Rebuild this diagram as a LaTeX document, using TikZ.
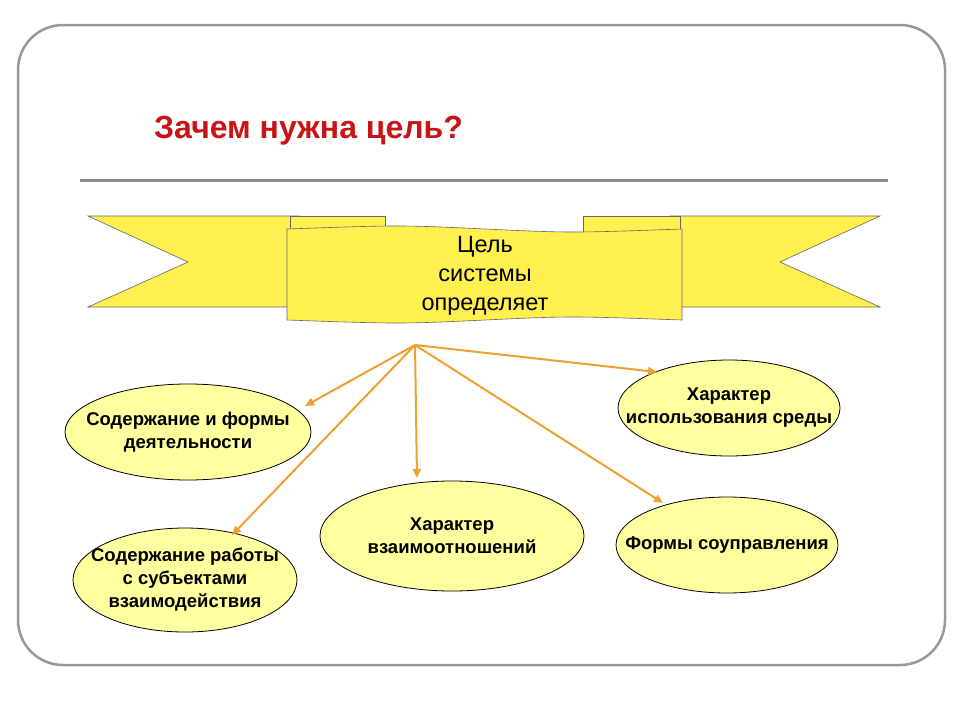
\documentclass[tikz,border=0pt]{standalone}
\usepackage{fontspec}
\setmainfont{Liberation Sans}
\usetikzlibrary{shapes.geometric,arrows.meta}
\definecolor{ban}{RGB}{255,240,80}
\definecolor{ell}{RGB}{255,255,160}
\definecolor{arr}{RGB}{240,160,50}
\definecolor{ttl}{RGB}{200,20,20}
\tikzset{
 ovl/.style={draw=black,fill=ell,line width=0.8pt},
 otext/.style={font=\bfseries\fontsize{18.5}{23}\selectfont,align=center,inner sep=0pt},
 conn/.style={draw=arr,line width=2pt,-{Triangle[length=9pt,width=8pt]}},
 ribbon/.style={draw=black!60,fill=ban,line width=0.6pt}
}
\begin{document}
\begin{tikzpicture}[x=1pt,y=-1pt]
\useasboundingbox (0,0) rectangle (960,720);
\draw[black!40,line width=2.5pt,fill=white,rounded corners=45pt] (18,25) rectangle (945,665);
\node[anchor=west,text=ttl,font=\bfseries\fontsize{32}{36}\selectfont,inner sep=0pt] (title) at (154,131) {Зачем нужна цель?};
\draw[black!45,line width=3pt] (80,180) -- (888,180);
% ribbons
\path[ribbon] (88,216) -- (300,216) -- (300,307) -- (88,307) -- (188,262) -- cycle;
\path[ribbon] (290,216) -- (385,216) -- (385,232) -- (290,232) -- cycle;
\path[ribbon] (880,216) -- (670,216) -- (670,307) -- (880,307) -- (780,262) -- cycle;
\path[ribbon] (583,216) -- (680,216) -- (680,232) -- (583,232) -- cycle;
\path[ribbon] (287,229) .. controls (400,225) .. (485,229) .. controls (570,233) .. (682,229) -- (682,320) .. controls (570,316) .. (485,320) .. controls (400,324) .. (287,320) -- cycle;
\node[align=center,font=\fontsize{23.5}{29}\selectfont] (goal) at (485,276) {Цель\\ системы\\ определяет};
\coordinate (src) at (415,345);
\draw[ovl] (188,432) ellipse [x radius=123, y radius=48];
\draw[ovl] (185,580) ellipse [x radius=112, y radius=52];
\draw[ovl] (452,536) ellipse [x radius=132, y radius=55];
\draw[ovl] (729,408) ellipse [x radius=111, y radius=48];
\draw[ovl] (727,545) ellipse [x radius=111, y radius=48];
\node[otext] (e1) at (188,432) {Содержание и формы\\деятельности};
\node[otext] (e2) at (185,580) {Содержание работы\\с субъектами\\взаимодействия};
\node[otext] (e3) at (452,536) {Характер\\взаимоотношений};
\node[otext] (e4) at (729,408) {Характер\\использования среды};
\node[otext] (e5) at (727,545) {Формы соуправления};
\draw[conn] (src) -- (305,406);
\draw[conn] (src) -- (232,535);
\draw[conn] (src) -- (417,478);
\draw[conn] (src) -- (657,372);
\draw[conn] (src) -- (663,503);
\end{tikzpicture}
\end{document}
